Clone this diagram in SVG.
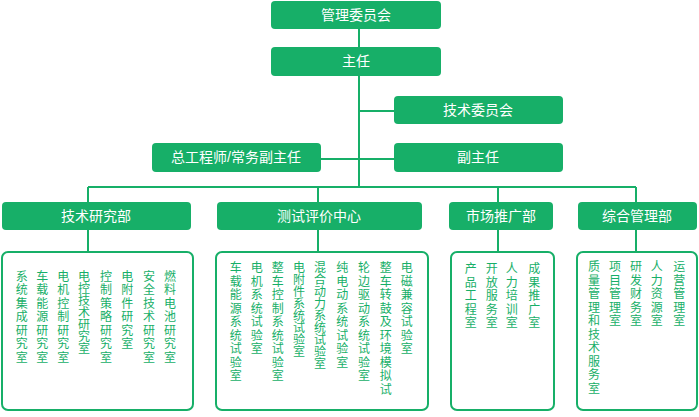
<svg xmlns="http://www.w3.org/2000/svg" width="699" height="417" viewBox="0 0 699 417">
<style>
.hb{fill:#17af68;}
.ht{fill:#ffffff;font-family:"Liberation Sans","Noto Sans CJK SC",sans-serif;font-size:14px;text-anchor:middle;}
.sb{fill:#ffffff;stroke:#17af68;stroke-width:2;}
.vt{fill:#17af68;font-family:"Noto Sans CJK SC",sans-serif;font-size:12px;writing-mode:vertical-rl;letter-spacing:1.5px;}
.vc{letter-spacing:0px;}
.ln{stroke:#17af68;stroke-width:2;fill:none;}
</style>
<rect width="699" height="417" fill="#ffffff"/>
<g id="connectors">
<path class="ln" d="M359 29V187M359 111H394M321 159H394M88 187H636M88 187V202M318 187V202M498 187V202M636 187V202M88 230V252M318 230V252M498 230V252M636 230V252"/>
</g>
<g id="n-guanli"><rect class="hb" x="271" y="1" width="170" height="28" rx="4"/><text class="ht" x="356" y="20">管理委员会</text></g>
<g id="n-zhuren"><rect class="hb" x="271" y="47" width="170" height="29" rx="4"/><text class="ht" x="356" y="66">主任</text></g>
<g id="n-jishuwei"><rect class="hb" x="394" y="96" width="169" height="28" rx="4"/><text class="ht" x="478" y="115">技术委员会</text></g>
<g id="n-zonggong"><rect class="hb" x="152" y="143" width="169" height="29" rx="4"/><text class="ht" x="236" y="162">总工程师/常务副主任</text></g>
<g id="n-fuzhuren"><rect class="hb" x="394" y="143" width="169" height="29" rx="4"/><text class="ht" x="478" y="162">副主任</text></g>
<g id="n-jishuyan"><rect class="hb" x="2" y="202" width="189" height="28" rx="4"/><text class="ht" x="96" y="221">技术研究部</text></g>
<g id="n-ceshi"><rect class="hb" x="217" y="202" width="205" height="28" rx="4"/><text class="ht" x="319" y="221">测试评价中心</text></g>
<g id="n-shichang"><rect class="hb" x="449" y="202" width="104" height="28" rx="4"/><text class="ht" x="501" y="221">市场推广部</text></g>
<g id="n-zonghe"><rect class="hb" x="578" y="202" width="119" height="28" rx="4"/><text class="ht" x="637" y="221">综合管理部</text></g>
<g id="n-sub1">
<rect class="sb" x="2" y="252" width="191" height="158" rx="6"/>
<text class="vt" x="21.7" y="270">系统集成研究室</text>
<text class="vt" x="42.3" y="270">车载能源研究室</text>
<text class="vt" x="63.3" y="270">电机控制研究室</text>
<text class="vt vc" x="84" y="270">电控技术研究室</text>
<text class="vt" x="106" y="270">控制策略研究室</text>
<text class="vt" x="127.3" y="270">电附件研究室</text>
<text class="vt" x="149" y="270">安全技术研究室</text>
<text class="vt" x="170" y="270">燃料电池研究室</text>
</g>
<g id="n-sub2">
<rect class="sb" x="216" y="252" width="212" height="158" rx="6"/>
<text class="vt" x="235.7" y="261.5">车载能源系统试验室</text>
<text class="vt" x="256.7" y="261.5">电机系统试验室</text>
<text class="vt" x="277.7" y="261.5">整车控制系统试验室</text>
<text class="vt vc" x="299" y="261.5">电附件系统试验室</text>
<text class="vt vc" x="320" y="261.5">混合动力系统试验室</text>
<text class="vt" x="342.3" y="261.5">纯电动系统试验室</text>
<text class="vt" x="364" y="261.5">轮边驱动系统试验室</text>
<text class="vt" x="385.7" y="261.5">整车转鼓及环境模拟试</text>
<text class="vt" x="406.7" y="261.5">电磁兼容试验室</text>
</g>
<g id="n-sub3">
<rect class="sb" x="451" y="252" width="103" height="158" rx="6"/>
<text class="vt" x="470.7" y="262.5">产品工程室</text>
<text class="vt" x="491.7" y="262.5">开放服务室</text>
<text class="vt" x="511.7" y="262.5">人力培训室</text>
<text class="vt" x="534.3" y="262.5">成果推广室</text>
</g>
<g id="n-sub4">
<rect class="sb" x="577" y="252" width="120" height="158" rx="6"/>
<text class="vt" x="594" y="260.5">质量管理和技术服务室</text>
<text class="vt" x="615" y="260.5">项目管理室</text>
<text class="vt" x="636" y="260.5">研发财务室</text>
<text class="vt" x="656.7" y="260.5">人力资源室</text>
<text class="vt" x="679.3" y="260.5">运营管理室</text>
</g>
</svg>
